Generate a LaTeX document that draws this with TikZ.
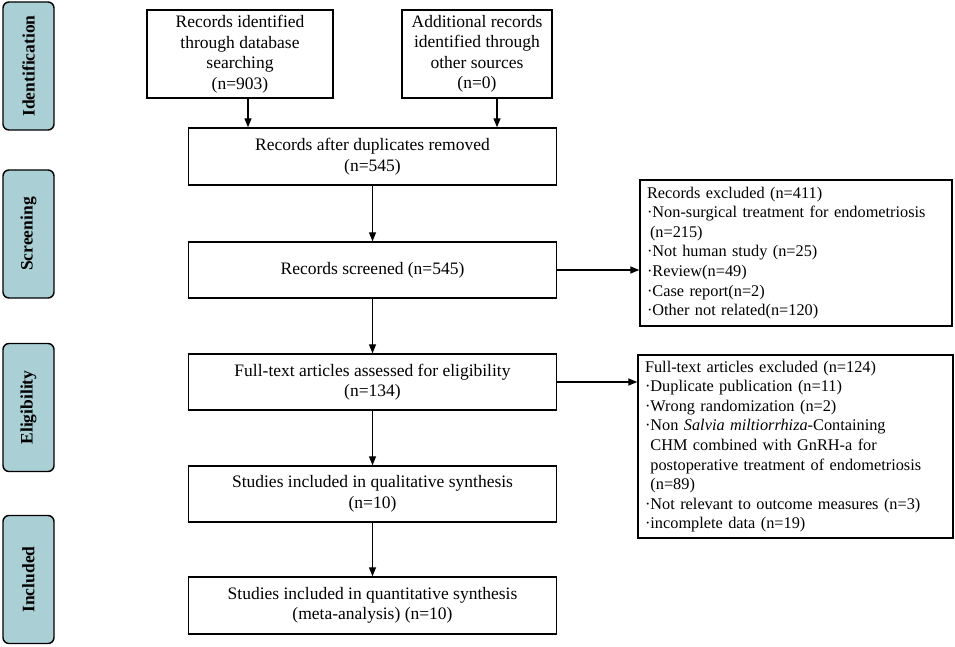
\documentclass[tikz,border=0pt]{standalone}
\usepackage{fontspec}
\setmainfont{Liberation Serif}
\usetikzlibrary{arrows.meta}
\definecolor{stagefill}{RGB}{170,208,213}
\begin{document}
\begin{tikzpicture}[x=1pt,y=-1pt,
    flowbox/.style={draw,line width=1.4pt,align=center,inner sep=2pt,
      font=\fontsize{17.5}{20.5}\selectfont},
    stage/.style={draw,line width=1.4pt,rounded corners=6pt,fill=stagefill,
      rotate=90,minimum width=128pt,minimum height=51pt,
      font=\fontsize{17.5}{20}\selectfont\bfseries},
    exclbox/.style={draw,line width=1.4pt,align=left,inner xsep=7pt,
      font=\fontsize{16.3}{19.6}\selectfont},
    flow/.style={line width=1.3pt,-{Triangle[length=9pt,width=7pt]}}]
  \useasboundingbox (0,0) rectangle (955,647);

  % stages
  \node[stage](Sident)  at(28.5,66)    {Identification};
  \node[stage](Sscreen) at(28.5,234)   {Screening};
  \node[stage](Selig)   at(28.5,407.5) {Eligibility};
  \node[stage](Sincl)   at(28.5,579.5) {Included};

  % main column
  \node[flowbox,minimum width=186pt,minimum height=88pt](Bdb) at(240,54)
    {Records identified\\through database\\searching\\(n=903)};
  \node[flowbox,minimum width=150pt,minimum height=88pt](Bother) at(477,54)
    {Additional records\\identified through\\other sources\\(n=0)};
  \node[flowbox,minimum width=368pt,minimum height=57pt](Bdup) at(372.5,156.5)
    {Records after duplicates removed\\(n=545)};
  \node[flowbox,minimum width=368pt,minimum height=56pt](Bscreen) at(372.5,270)
    {Records screened (n=545)};
  \node[flowbox,minimum width=368pt,minimum height=56pt](Bfull) at(372.5,382)
    {Full-text articles assessed for eligibility\\(n=134)};
  \node[flowbox,minimum width=368pt,minimum height=56pt](Bqual) at(372.5,494)
    {Studies included in qualitative synthesis\\(n=10)};
  \node[flowbox,minimum width=368pt,minimum height=57pt](Bquant) at(372.5,605.5)
    {Studies included in quantitative synthesis\\(meta-analysis) (n=10)};

  % exclusions
  \node[exclbox,text width=298pt,minimum height=146pt](Eone) at(796,253)
    {Records excluded (n=411)\\
     ·Non-surgical treatment for endometriosis\\
     \hspace{3pt}(n=215)\\
     ·Not human study (n=25)\\
     ·Review(n=49)\\
     ·Case report(n=2)\\
     ·Other not related(n=120)};
  \node[exclbox,text width=301pt,minimum height=183pt](Etwo) at(795.5,446.5)
    {Full-text articles excluded (n=124)\\
     ·Duplicate publication (n=11)\\
     ·Wrong randomization (n=2)\\
     ·Non \textit{Salvia miltiorrhiza}-Containing\\
     \hphantom{·}CHM combined with GnRH-a for\\
     \hphantom{·}postoperative treatment of endometriosis\\
     \hphantom{·}(n=89)\\
     ·Not relevant to outcome measures (n=3)\\
     ·incomplete data (n=19)};

  \draw[flow]([xshift=8pt]Bdb.south)--([xshift=8pt]Bdb.south |- Bdup.north);
  \draw[flow]([xshift=20pt]Bother.south)--([xshift=20pt]Bother.south |- Bdup.north);
  \foreach \x/\y in{Bdup/Bscreen, Bscreen/Bfull, Bfull/Bqual, Bqual/Bquant}{
    \draw[flow](\x)--(\y);
  }
  \draw[flow](Bscreen.east)--(Eone.west |- Bscreen.east);
  \draw[flow](Bfull.east)--(Etwo.west |- Bfull.east);
\end{tikzpicture}
\end{document}
